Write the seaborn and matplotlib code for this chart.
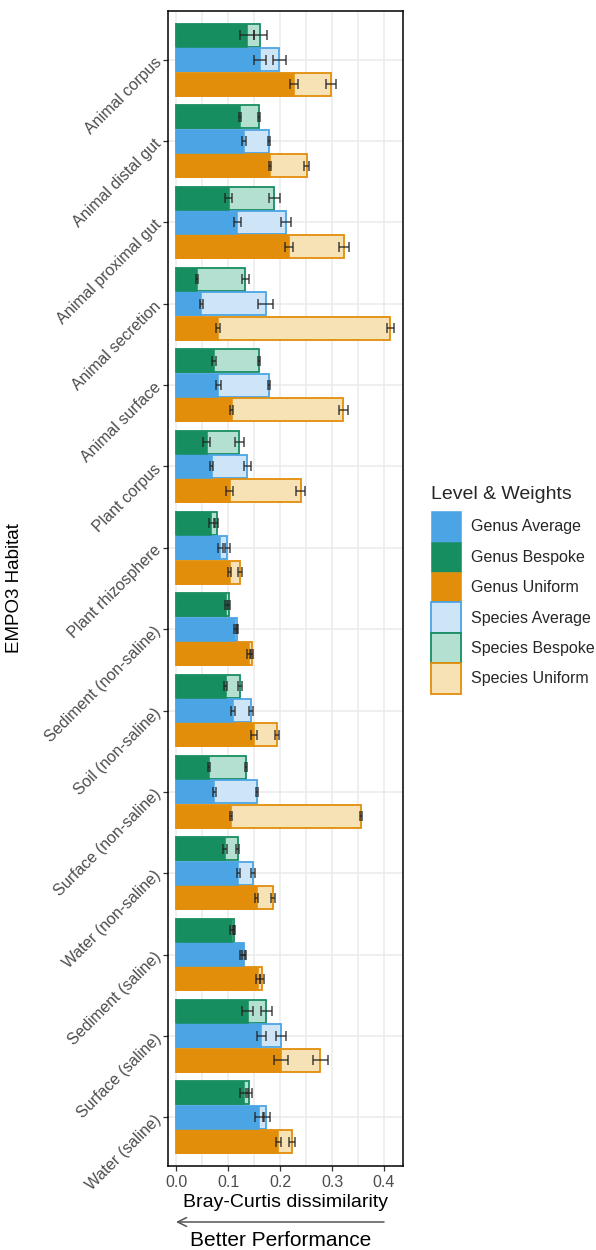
import numpy as np
import pandas as pd
import matplotlib
matplotlib.use("Agg")
import matplotlib.pyplot as plt
from matplotlib.patches import Patch
import seaborn as sns

# ---- data -------------------------------------------------------------
habitats = [
    "Animal corpus", "Animal distal gut", "Animal proximal gut",
    "Animal secretion", "Animal surface", "Plant corpus",
    "Plant rhizosphere", "Sediment (non-saline)", "Soil (non-saline)",
    "Surface (non-saline)", "Water (non-saline)", "Sediment (saline)",
    "Surface (saline)", "Water (saline)",
]
weights = ["Bespoke", "Average", "Uniform"]

genus_bespoke = [0.137, 0.123, 0.101, 0.040, 0.073, 0.059, 0.068, 0.097, 0.096, 0.064, 0.094, 0.108, 0.138, 0.131]
genus_average = [0.162, 0.131, 0.118, 0.049, 0.081, 0.069, 0.085, 0.114, 0.110, 0.074, 0.120, 0.128, 0.164, 0.160]
genus_uniform = [0.227, 0.180, 0.217, 0.081, 0.107, 0.103, 0.103, 0.140, 0.150, 0.106, 0.155, 0.158, 0.202, 0.197]
species_bespoke = [0.162, 0.159, 0.189, 0.133, 0.160, 0.122, 0.078, 0.101, 0.123, 0.135, 0.119, 0.112, 0.174, 0.140]
species_average = [0.199, 0.178, 0.211, 0.173, 0.178, 0.137, 0.099, 0.117, 0.145, 0.155, 0.148, 0.131, 0.202, 0.174]
species_uniform = [0.298, 0.251, 0.323, 0.412, 0.322, 0.240, 0.123, 0.146, 0.195, 0.355, 0.187, 0.165, 0.277, 0.223]

# half-widths of the error bars
genus_bespoke_err = [0.013, 0.002, 0.0067, 0.002, 0.004, 0.0064, 0.005, 0.003, 0.003, 0.002, 0.004, 0.004, 0.011, 0.0074]
genus_average_err = [0.012, 0.004, 0.0074, 0.002, 0.0048, 0.003, 0.0045, 0.003, 0.0035, 0.002, 0.003, 0.004, 0.0083, 0.0087]
genus_uniform_err = [0.008, 0.002, 0.0077, 0.0045, 0.003, 0.0074, 0.0026, 0.004, 0.0064, 0.002, 0.0035, 0.004, 0.0138, 0.004]
species_bespoke_err = [0.0128, 0.002, 0.011, 0.0064, 0.002, 0.008, 0.003, 0.002, 0.004, 0.002, 0.003, 0.002, 0.0115, 0.0058]
species_average_err = [0.012, 0.002, 0.010, 0.0144, 0.002, 0.007, 0.0045, 0.002, 0.004, 0.002, 0.003, 0.004, 0.010, 0.0074]
species_uniform_err = [0.009, 0.004, 0.0093, 0.0064, 0.0087, 0.009, 0.0035, 0.003, 0.004, 0.002, 0.004, 0.004, 0.0144, 0.006]

legend_labels = ["Genus Average", "Genus Bespoke", "Genus Uniform",
                 "Species Average", "Species Bespoke", "Species Uniform"]

# ---- colours ----------------------------------------------------------
dark = {"Bespoke": "#178E5F", "Average": "#4BA4E3", "Uniform": "#E28E0B"}
light = {"Bespoke": "#B4E0D1", "Average": "#CDE5F7", "Uniform": "#F7E2B5"}


def long_frame(bes, avg, uni, bes_e, avg_e, uni_e):
    rows = []
    for w, vals, errs in zip(weights, [bes, avg, uni], [bes_e, avg_e, uni_e]):
        for h, v, e in zip(habitats, vals, errs):
            rows.append({"habitat": h, "weights": w, "value": v, "err": e})
    return pd.DataFrame(rows)


genus = long_frame(genus_bespoke, genus_average, genus_uniform,
                   genus_bespoke_err, genus_average_err, genus_uniform_err)
species = long_frame(species_bespoke, species_average, species_uniform,
                     species_bespoke_err, species_average_err, species_uniform_err)

# ---- figure -----------------------------------------------------------
sns.set_theme(style="white")
plt.rcParams["font.family"] = ["Liberation Sans", "DejaVu Sans"]

fig = plt.figure(figsize=(5.96, 12.5), dpi=100)
ax = fig.add_axes([168 / 596, 1 - 1166 / 1250, 235 / 596, 1155 / 1250])

common = dict(y="habitat", x="value", hue="weights", order=habitats,
              hue_order=weights, orient="h", errorbar=None, width=0.9,
              gap=0.06, legend=False, saturation=1, ax=ax, zorder=2)

# species bars underneath, genus bars on top
sns.barplot(data=species, palette=light, **common)
sns.barplot(data=genus, palette=dark, **common)

for i, w in enumerate(weights):
    for p in ax.containers[i]:
        p.set_edgecolor(dark[w])
        p.set_linewidth(1.3)
    for p in ax.containers[3 + i]:
        p.set_edgecolor(dark[w])
        p.set_linewidth(0.4)

# error bars at the bar centres
for i, w in enumerate(weights):
    for cont, frame in ((ax.containers[i], species), (ax.containers[3 + i], genus)):
        sub = frame[frame["weights"] == w].set_index("habitat").loc[habitats]
        ys = [p.get_y() + p.get_height() / 2 for p in cont]
        ax.errorbar(sub["value"].values, ys, xerr=sub["err"].values, fmt="none",
                    ecolor="#222222", alpha=0.7, elinewidth=1.3, capsize=3.6,
                    capthick=1.3, zorder=4)

# axes styling
ax.set_xlim(-0.0154, 0.4365)
ax.set_ylim(13.6, -0.6)
ax.set_xticks([0.0, 0.1, 0.2, 0.3, 0.4])
ax.set_xticklabels(["0.0", "0.1", "0.2", "0.3", "0.4"])
ax.set_xticks([0.05, 0.15, 0.25, 0.35], minor=True)
ax.grid(True, which="major", color="#EBEBEB", linewidth=1.1, zorder=0)
ax.grid(True, which="minor", axis="x", color="#EBEBEB", linewidth=1.1, zorder=0)
ax.set_axisbelow(True)
for s in ax.spines.values():
    s.set_color("black")
    s.set_linewidth(1.1)
ax.tick_params(axis="both", which="major", length=3.5, width=0.9, color="#333333",
               labelcolor="#4D4D4D", labelsize=11.5, pad=3)
ax.tick_params(axis="x", which="minor", length=0)
ax.tick_params(left=True, bottom=True)
for lab in ax.get_yticklabels():
    lab.set_rotation(45)
    lab.set_rotation_mode("anchor")
    lab.set_ha("right")
    lab.set_va("center")

ax.set_xlabel("Bray-Curtis dissimilarity", fontsize=14, color="black")
ax.xaxis.set_label_coords(0.5, -0.024)
ax.set_ylabel("EMPO3 Habitat", fontsize=13.5, color="black")
ax.yaxis.set_label_coords(-0.615, 0.5)

# direction hint under the axis title
ax.annotate("", xy=(0.0, 1 - 1222 / 1250), xytext=(0.4, 1 - 1222 / 1250),
            xycoords=("data", "figure fraction"), textcoords=("data", "figure fraction"),
            arrowprops=dict(arrowstyle="->", color="#555555", lw=1.1,
                            mutation_scale=16, shrinkA=0, shrinkB=0),
            annotation_clip=False)
fig.text(281 / 596, 1 - 1240 / 1250, "Better Performance", fontsize=15,
         ha="center", va="center", color="black")

# legend
handles = []
for lab in legend_labels:
    level, w = lab.split()
    if level == "Genus":
        handles.append(Patch(facecolor=dark[w], edgecolor=dark[w], linewidth=0.4))
    else:
        handles.append(Patch(facecolor=light[w], edgecolor=dark[w], linewidth=1.3))
leg = fig.legend(handles, legend_labels, title="Level & Weights", loc="upper left",
                 bbox_to_anchor=(431 / 596, 1 - 486 / 1250), frameon=False,
                 fontsize=11.5, title_fontsize=14, handlelength=1.88, handleheight=2.55,
                 labelspacing=0.0, handletextpad=0.62, borderaxespad=0.0,
                 borderpad=0.0)
leg._legend_box.align = "left"
leg._legend_box.sep = 6

fig.savefig("out.png", dpi=100, facecolor="white")
